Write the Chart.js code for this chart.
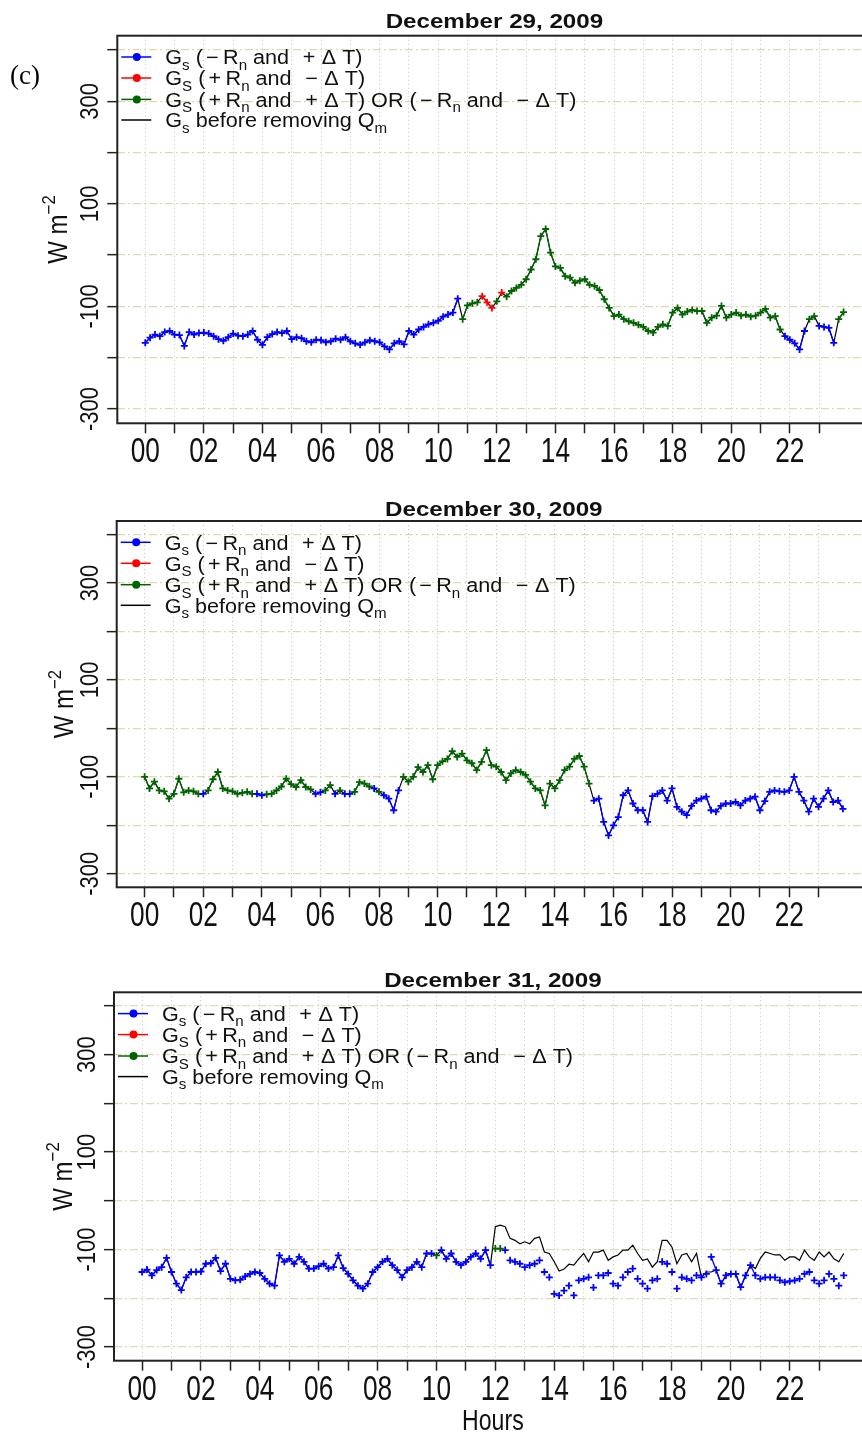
<!DOCTYPE html>
<html><head><meta charset="utf-8">
<script src="https://cdn.jsdelivr.net/npm/chart.js@4.4.0/dist/chart.umd.min.js"></script>
<style>
html,body{margin:0;padding:0;background:#fff;width:862px;height:1433px;overflow:hidden;}
#wrap{position:relative;width:862px;height:1433px;overflow:hidden;background:#fff;}
canvas{position:absolute;left:0;}
</style></head>
<body><div id="wrap">
<canvas id="c1" width="880" height="480" style="top:0px"></canvas>
<canvas id="c2" width="880" height="470" style="top:480px"></canvas>
<canvas id="c3" width="880" height="483" style="top:950px"></canvas>
</div>
<script>
// ---------- data ----------
const hourTicks = [0,1,2,3,4,5,6,7,8,9,10,11,12,13,14,15,16,17,18,19,20,21,22,23];
const hourTickLabels = ['00','','02','','04','','06','','08','','10','','12','','14','','16','','18','','20','','22',''];
const yTicks = [-300,-200,-100,0,100,200,300,400];
const yTickLabels = ['-300','','-100','','100','','300',''];
const panelTitles = ['December 29, 2009','December 30, 2009','December 31, 2009'];
const xAxisTitle = 'Hours';
const stepHours = 10/60; // 10-minute samples

// Dec 29 (W m-2), 10-minute values
const dec29Gs = [
-171,-161,-155,-158,-150,-148, -155,-156,-177,-150,-155,-152,
-151,-153,-158,-164,-167,-160, -153,-157,-158,-155,-148,-165,
-175,-160,-154,-150,-152,-148, -164,-160,-162,-168,-170,-165,
-166,-170,-168,-163,-165,-160, -168,-172,-175,-170,-166,-168,
-170,-178,-184,-172,-168,-174, -148,-155,-145,-140,-135,-132,
-128,-120,-116,-112,-85,-125,  -98,-94,-92,-80,-92,-103,
-90,-73,-81,-70,-64,-58,       -47,-28,-8,37,51,5,
-22,-25,-41,-44,-54,-50,       -47,-58,-60,-68,-86,-103,
-119,-116,-125,-129,-132,-136, -140,-148,-151,-140,-135,-138,
-112,-103,-116,-110,-107,-109, -109,-132,-122,-118,-99,-122,
-116,-112,-118,-116,-120,-118, -112,-105,-122,-119,-145,-158,
-165,-172,-184,-148,-125,-119, -138,-140,-142,-171,-125,-111];
const dec29Class =
'BBBBBB'+'BBBBBB'+'BBBBBB'+'BBBBBB'+'BBBBBB'+'BBBBBB'+'BBBBBB'+'BBBBBB'+'BBBBBB'+'BBBBBB'+
'BBBBBG'+'GGGRRR'+'GRGGGG'+'GGGGGG'+'GGGGGG'+'GGGGGG'+'GGGGGG'+'GGGGGG'+'GGGGGG'+'GGGGGG'+
'GGGGGG'+'GGGGGB'+'BBBBGG'+'BBBBGG';

// Dec 30
const dec30Gs = [
-100,-124,-110,-128,-130,-145, -135,-104,-132,-128,-130,-135,
-135,-128,-105,-90,-124,-128,  -130,-135,-133,-131,-135,-135,
-138,-136,-135,-128,-120,-104, -115,-121,-107,-121,-126,-135,
-132,-128,-117,-135,-128,-135, -135,-131,-111,-114,-120,-124,
-131,-138,-145,-169,-128,-100, -110,-100,-80,-90,-76,-105,
-76,-68,-63,-47,-59,-52,       -66,-72,-86,-69,-45,-76,
-79,-90,-107,-93,-86,-90,      -96,-110,-124,-128,-159,-114,
-124,-107,-86,-79,-63,-57,     -79,-114,-149,-145,-193,-221,
-200,-183,-138,-128,-155,-169, -169,-193,-140,-135,-128,-149,
-124,-162,-172,-179,-160,-149, -145,-141,-169,-172,-160,-155,
-155,-152,-159,-149,-145,-141, -169,-150,-131,-128,-130,-131,
-128,-100,-131,-149,-172,-145, -162,-145,-128,-152,-149,-166];
const dec30Class =
'GGGGGG'+'GGGGGG'+'BGGGGG'+'GGGGGB'+'BGGGGG'+'GGGGGB'+'BGGBGB'+'BGGGGB'+'GBBBBG'+'GGGGGG'+
'GGGGGG'+'GGGGGG'+'GGGGGG'+'GGGGGG'+'GGGGGG'+'GGBBBB'+'BBBBBB'+'BBBBBB'+'BBBBBB'+'BBBBBB'+
'BBBBBB'+'BBBBBB'+'BBBBBB'+'BBBBBB';

// Dec 31
const dec31Gs = [
-146,-141,-153,-142,-136,-117, -146,-170,-183,-157,-146,-146,
-145,-129,-128,-117,-144,-129, -160,-163,-162,-155,-150,-146,
-148,-160,-170,-174,-112,-125, -119,-129,-115,-125,-139,-139,
-134,-129,-139,-136,-112,-138, -150,-163,-174,-180,-170,-146,
-136,-125,-119,-132,-142,-157, -142,-136,-125,-136,-108,-108,
-112,-101,-119,-108,-125,-132, -125,-115,-108,-119,-101,-132,
-98,-98,-101,-122,-125,-129,   -136,-132,-129,-122,-146,-157,
-191,-194,-184,-174,-194,-163, -160,-157,-178,-153,-153,-148,
-170,-174,-157,-146,-139,-160, -170,-180,-163,-160,-125,-129,
-146,-180,-157,-160,-163,-153, -157,-150,-115,-142,-170,-153,
-150,-150,-177,-153,-132,-153, -160,-157,-157,-157,-163,-167,
-165,-163,-160,-150,-146,-163, -170,-163,-150,-160,-174,-153];
const dec31Class =
'BBBBBB'+'BBBBBB'+'BBBBBB'+'BBBBBB'+'BBBBBB'+'BBBBBB'+'BBBBBB'+'BBBBBB'+'BBBBBB'+'BBBBBB'+
'GBBBBB'+'BBBBBB'+'GGbbbb'+'bbbbbb'+'bbbbbb'+'bbbbbb'+'bbbbbb'+'bbbbbb'+'bbbbbb'+'bbBBBB'+
'BBBBBB'+'bbbbbb'+'bbbbbb'+'bbbbbb';
// Dec 31, Gs before removing Qm
const dec31Before = [
-146,-141,-153,-142,-136,-117, -146,-170,-183,-157,-146,-146,
-145,-129,-128,-117,-144,-129, -160,-163,-162,-155,-150,-146,
-148,-160,-170,-174,-112,-125, -119,-129,-115,-125,-139,-139,
-134,-129,-139,-136,-112,-138, -150,-163,-174,-180,-170,-146,
-136,-125,-119,-132,-142,-157, -142,-136,-125,-136,-108,-108,
-112,-101,-119,-108,-125,-132, -125,-115,-108,-119,-101,-132,
-53,-50,-53,-77,-81,-88,       -84,-88,-77,-74,-105,-108,
-125,-144,-140,-130,-132,-119, -108,-125,-105,-105,-101,-122,
-115,-111,-101,-101,-91,-108,  -122,-119,-136,-125,-81,-81,
-95,-129,-111,-108,-125,-108,  -157,-146,-146,-142,-170,-153,
-150,-150,-177,-153,-132,-139, -118,-105,-108,-111,-111,-122,
-115,-115,-122,-101,-115,-122, -105,-115,-105,-119,-125,-108];

const classColors = {B:'#0000FF', R:'#FF0000', G:'#006400', b:'#0000FF'};
const legendColors = ['#0000FF','#FF0000','#006400','#000000'];
// legend text runs: [text, mode] mode 0 normal, 1 subscript, 2 superscript; numbers = math gap
const legendRuns = [
  [['G',0],['s',1],[' (',0],3,['\u2212',0],4,['R',0],['n',1],[' and ',0],7,['+',0],6,['\u0394 T)',0]],
  [['G',0],['S',1],[' (',0],3,['+',0],4,['R',0],['n',1],[' and ',0],7,['\u2212',0],6,['\u0394 T)',0]],
  [['G',0],['S',1],[' (',0],3,['+',0],4,['R',0],['n',1],[' and ',0],7,['+',0],6,['\u0394 T) OR (',0],3,['\u2212',0],4,['R',0],['n',1],[' and ',0],7,['\u2212',0],6,['\u0394 T)',0]],
  [['G',0],['s',1],[' before removing Q',0],['m',1]]
];
const yTitleRuns = [['W m',0],['\u22122',2]];

// ---------- layout ----------
const X_MIN = -0.9533, X_MAX = 24.7867, Y_MIN = -328, Y_MAX = 428;
const CW = 880;
const FONT = '"Liberation Sans", Arial, Helvetica, sans-serif';
const layouts = [
  {canvas:'c1', H:480, top:35.7, bottom:423.3, left:117.3, pxh:29.3, titleBase:27.5, yTitleX:67, tag:true,  hours:false},
  {canvas:'c2', H:470, top:41.0, bottom:407.3, left:116.7, pxh:29.3, titleBase:35.5, yTitleX:73, tag:false, hours:false},
  {canvas:'c3', H:483, top:42.3, bottom:410.7, left:114.0, pxh:29.44, titleBase:36.5, yTitleX:71.5, tag:false, hours:true}
];

function runWidth(ctx, runs, size, weight) {
  let w = 0;
  for (const r of runs) {
    if (typeof r === 'number') { w += r; continue; }
    const fs = r[1] ? size*0.7 : size;
    ctx.font = (weight||'') + ' ' + fs + 'px ' + FONT;
    w += ctx.measureText(r[0]).width;
  }
  return w;
}
function drawRun(ctx, runs, size, weight) {
  let cx = 0;
  ctx.textAlign = 'left'; ctx.textBaseline = 'alphabetic';
  for (const r of runs) {
    if (typeof r === 'number') { cx += r; continue; }
    const fs = r[1] ? size*0.7 : size;
    ctx.font = (weight||'') + ' ' + fs + 'px ' + FONT;
    const dy = r[1] === 1 ? size*0.28 : (r[1] === 2 ? -size*0.45 : 0);
    ctx.fillText(r[0], cx, dy);
    cx += ctx.measureText(r[0]).width;
  }
  return cx;
}

function makeDecor(L, title) {
  return {
    id: 'decor',
    afterDraw(chart) {
      const ctx = chart.ctx, ca = chart.chartArea, xs = chart.scales.x, ys = chart.scales.y;
      ctx.save();
      // box
      ctx.strokeStyle = '#222'; ctx.lineWidth = 2;
      ctx.strokeRect(ca.left, ca.top, ca.right - ca.left, ca.bottom - ca.top);
      ctx.fillStyle = '#111';
      // y tick labels (rotated, parallel to axis)
      yTicks.forEach((v, i) => {
        const lab = yTickLabels[i]; if (!lab) return;
        const py = ys.getPixelForValue(v);
        ctx.save(); ctx.translate(ca.left - 19, py); ctx.scale(1.2, 1); ctx.rotate(-Math.PI/2);
        ctx.font = '22px ' + FONT; ctx.textAlign = 'center'; ctx.textBaseline = 'alphabetic';
        ctx.fillText(lab, 0, 0); ctx.restore();
      });
      // x tick labels
      hourTicks.forEach((v, i) => {
        const lab = hourTickLabels[i]; if (!lab) return;
        const px = xs.getPixelForValue(v);
        ctx.save(); ctx.translate(px, ca.bottom + 39); ctx.scale(0.75, 1);
        ctx.font = '35px ' + FONT; ctx.textAlign = 'center'; ctx.textBaseline = 'alphabetic';
        ctx.fillText(lab, 0, 0); ctx.restore();
      });
      // title
      const cxm = (ca.left + ca.right) / 2;
      ctx.save();
      ctx.font = 'bold 21px ' + FONT;
      const tw = ctx.measureText(title).width * 1.15;
      ctx.translate(cxm - tw/2, L.titleBase); ctx.scale(1.15, 1);
      ctx.textAlign = 'left'; ctx.textBaseline = 'alphabetic';
      ctx.fillText(title, 0, 0); ctx.restore();
      // y axis title
      const my = (ca.top + ca.bottom) / 2;
      ctx.save();
      const yw = runWidth(ctx, yTitleRuns, 24);
      ctx.translate(L.yTitleX, my); ctx.scale(1.12, 1); ctx.rotate(-Math.PI/2);
      ctx.translate(-yw/2, 0);
      drawRun(ctx, yTitleRuns, 24);
      ctx.restore();
      // legend
      const rows = [21.3, 42.3, 63.7, 84.3];
      legendRuns.forEach((runs, k) => {
        const ry = ca.top + rows[k];
        const col = legendColors[k];
        ctx.strokeStyle = col; ctx.lineWidth = 1.5;
        ctx.beginPath(); ctx.moveTo(ca.left + 4, ry); ctx.lineTo(ca.left + 34, ry); ctx.stroke();
        if (k < 3) { ctx.fillStyle = col; ctx.beginPath(); ctx.arc(ca.left + 19.5, ry, 4, 0, Math.PI*2); ctx.fill(); }
        ctx.fillStyle = '#111';
        ctx.save(); ctx.translate(ca.left + 48, ry + 7.2); ctx.scale(1.08, 1);
        drawRun(ctx, runs, 20); ctx.restore();
      });
      if (L.tag) {
        ctx.font = '27px "Liberation Serif", "Times New Roman", serif';
        ctx.textAlign = 'left'; ctx.textBaseline = 'alphabetic'; ctx.fillStyle = '#000';
        ctx.fillText('(c)', 10, 84);
      }
      if (L.hours) {
        ctx.save(); ctx.font = '30px ' + FONT;
        const hw = ctx.measureText(xAxisTitle).width * 0.77;
        ctx.translate(cxm - hw/2, 480); ctx.scale(0.77, 1);
        ctx.textAlign = 'left'; ctx.textBaseline = 'alphabetic'; ctx.fillStyle = '#111';
        ctx.fillText(xAxisTitle, 0, 0); ctx.restore();
      }
      ctx.restore();
    }
  };
}

function makePanel(L, title, values, classes, before) {
  const t = values.map((_, i) => i * stepHours);
  const datasets = [{
    label: 'before', data: before.map((v, i) => ({x: t[i], y: v})),
    borderColor: '#000', borderWidth: 1.2, pointRadius: 0, order: 5
  }];
  ['B','R','G','b'].forEach(code => {
    if (!classes.includes(code)) return;
    const col = classColors[code];
    datasets.push({
      label: code,
      data: values.map((v, i) => ({x: t[i], y: classes[i] === code ? v : null})),
      borderColor: col, backgroundColor: col, borderWidth: 1.3,
      showLine: code !== 'b', spanGaps: false,
      pointStyle: 'cross', pointRadius: 3.5, pointBorderWidth: 1.8,
      pointBorderColor: col, pointBackgroundColor: col, order: 1
    });
  });
  const R = L.left + (X_MAX - X_MIN) * L.pxh;
  new Chart(document.getElementById(L.canvas), {
    type: 'line',
    data: {datasets},
    options: {
      responsive: false, animation: false, devicePixelRatio: 1,
      layout: {padding: {top: L.top, left: 0, right: CW - R, bottom: 0}},
      plugins: {legend: {display: false}, title: {display: false}, tooltip: {enabled: false}},
      elements: {line: {tension: 0}},
      events: [],
      scales: {
        x: {
          type: 'linear', min: X_MIN, max: X_MAX,
          afterBuildTicks: s => { s.ticks = hourTicks.map(v => ({value: v})); },
          afterFit: s => { s.height = L.H - L.bottom; },
          ticks: {display: false},
          grid: {color: '#c4c4c4', lineWidth: 1, tickColor: '#222', tickWidth: 1.5, tickLength: 10},
          border: {display: false, dash: [1, 3]}
        },
        y: {
          type: 'linear', min: Y_MIN, max: Y_MAX,
          afterBuildTicks: s => { s.ticks = yTicks.map(v => ({value: v})); },
          afterFit: s => { s.width = L.left; },
          ticks: {display: false},
          grid: {color: '#e2d8b0', lineWidth: 1.3, tickColor: '#222', tickWidth: 1.5, tickLength: 10},
          border: {display: false, dash: [8, 3, 2, 3]}
        }
      }
    },
    plugins: [makeDecor(L, title)]
  });
}

makePanel(layouts[0], panelTitles[0], dec29Gs, dec29Class, dec29Gs);
makePanel(layouts[1], panelTitles[1], dec30Gs, dec30Class, dec30Gs);
makePanel(layouts[2], panelTitles[2], dec31Gs, dec31Class, dec31Before);
</script>
</body></html>
